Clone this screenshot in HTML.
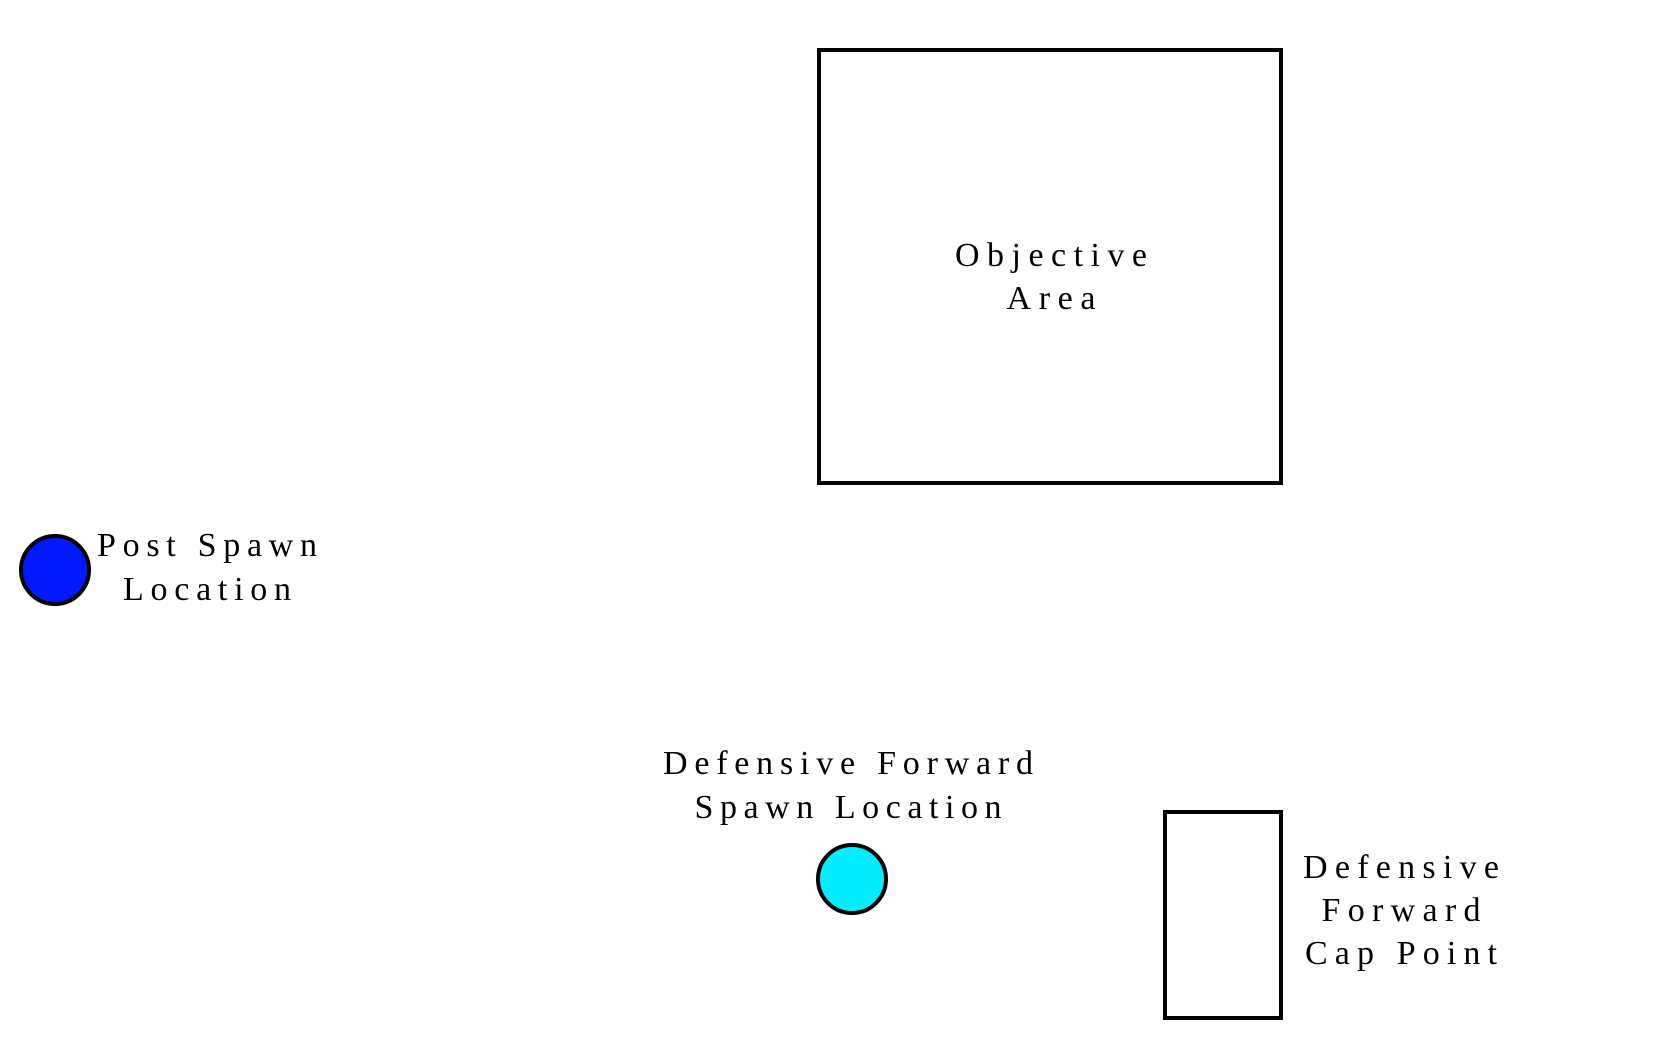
<!DOCTYPE html>
<html><head><style>html,body{margin:0;padding:0;background:#fff;}svg{display:block}</style></head>
<body>
<svg width="1680" height="1050" viewBox="0 0 1680 1050" xmlns="http://www.w3.org/2000/svg">
<rect x="819" y="50" width="462" height="433" fill="none" stroke="#000" stroke-width="4"/>
<rect x="1165" y="812" width="116" height="206" fill="none" stroke="#000" stroke-width="4"/>
<circle cx="55" cy="570" r="34" fill="#0019ff" stroke="#000" stroke-width="4"/>
<circle cx="852" cy="879" r="34" fill="#00eeff" stroke="#000" stroke-width="4"/>
<g font-family="Liberation Serif, serif" font-size="34" fill="#000" text-anchor="middle">
<text x="1051" y="266" textLength="192" lengthAdjust="spacing">Objective</text>
<text x="1051" y="309" textLength="89" lengthAdjust="spacing">Area</text>
<text x="207" y="556" textLength="220" lengthAdjust="spacing">Post Spawn</text>
<text x="207" y="600" textLength="168" lengthAdjust="spacing">Location</text>
<text x="848" y="774" textLength="370" lengthAdjust="spacing">Defensive Forward</text>
<text x="848" y="818" textLength="307" lengthAdjust="spacing">Spawn Location</text>
<text x="1401" y="878" textLength="196" lengthAdjust="spacing">Defensive</text>
<text x="1401" y="921" textLength="159" lengthAdjust="spacing">Forward</text>
<text x="1401" y="964" textLength="192" lengthAdjust="spacing">Cap Point</text>
</g>
</svg>
</body></html>
